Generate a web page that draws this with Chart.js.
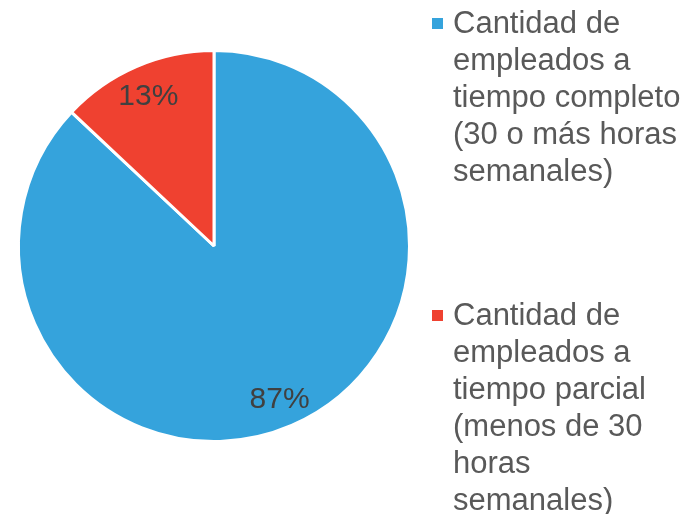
<!DOCTYPE html>
<html>
<head>
<meta charset="utf-8">
<script src="https://cdn.jsdelivr.net/npm/chart.js@4"></script>
<style>
  html, body { margin: 0; padding: 0; background: #fff; }
  #wrap { width: 700px; height: 514px; position: relative; }
</style>
</head>
<body>
<div id="wrap"><canvas id="pie" width="700" height="514"></canvas></div>
<script>
// data
const categories = [
    ['Cantidad de', 'empleados a', 'tiempo completo', '(30 o más horas', 'semanales)'],
    ['Cantidad de', 'empleados a', 'tiempo parcial', '(menos de 30', 'horas', 'semanales)']
];
const percentages = [87, 13];
const sliceColors = ['#35A3DC', '#EF4130'];

const FONT = 'Arial, "Liberation Sans", sans-serif';

// percentage labels inside the slices
const sliceLabels = {
    id: 'sliceLabels',
    afterDatasetsDraw(chart) {
        const ctx = chart.ctx;
        const meta = chart.getDatasetMeta(0);
        ctx.save();
        ctx.font = '30px ' + FONT;
        ctx.fillStyle = '#404040';
        ctx.textAlign = 'center';
        ctx.textBaseline = 'middle';
        meta.data.forEach((arc, i) => {
            const mid = (arc.startAngle + arc.endAngle) / 2;
            const r = arc.outerRadius * 0.845;
            ctx.fillText(percentages[i] + '%', arc.x + Math.cos(mid) * r, arc.y + Math.sin(mid) * r + 2);
        });
        ctx.restore();
    }
};

// legend on the right, with wrapped lines
const sideLegend = {
    id: 'sideLegend',
    afterDraw(chart) {
        const ctx = chart.ctx;
        const blockTops = [33, 325];
        const lineHeight = 37;
        ctx.save();
        ctx.font = '31px ' + FONT;
        ctx.textBaseline = 'alphabetic';
        ctx.textAlign = 'left';
        categories.forEach((lines, i) => {
            const y0 = blockTops[i];
            ctx.fillStyle = sliceColors[i];
            ctx.fillRect(432, y0 - 15, 11, 11);
            ctx.fillStyle = '#595959';
            lines.forEach((line, j) => ctx.fillText(line, 453, y0 + j * lineHeight));
        });
        ctx.restore();
    }
};

new Chart(document.getElementById('pie'), {
    type: 'pie',
    data: {
        labels: categories.map(c => c.join(' ')),
        datasets: [{
            data: percentages,
            backgroundColor: sliceColors,
            borderColor: '#ffffff',
            borderWidth: 3
        }]
    },
    options: {
        responsive: false,
        animation: false,
        layout: { padding: { left: 17, right: 289, top: 49, bottom: 71 } },
        plugins: {
            legend: { display: false },
            tooltip: { enabled: false }
        }
    },
    plugins: [sliceLabels, sideLegend]
});
</script>
</body>
</html>
